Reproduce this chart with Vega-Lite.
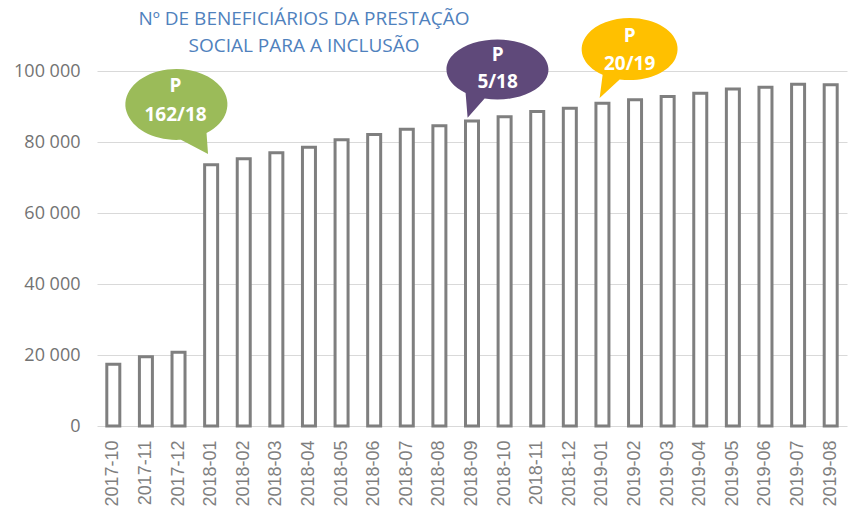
{
  "$schema": "https://vega.github.io/schema/vega-lite/v6.json",
  "width": 750,
  "height": 355,
  "autosize": "none",
  "padding": {"left": 97, "top": 71, "right": 1, "bottom": 89},
  "background": "white",
  "title": {
    "text": ["Nº DE BENEFICIÁRIOS DA PRESTAÇÃO", "SOCIAL PARA A INCLUSÃO"],
    "anchor": "middle",
    "frame": "group",
    "dx": -168,
    "dy": 50,
    "offset": 12,
    "font": "Open Sans",
    "fontSize": 19,
    "fontWeight": "normal",
    "color": "#4F81BD",
    "lineHeight": 27
  },
  "config": {"view": {"stroke": null}},
  "datasets": {
    "main": [
      {"month": "2017-10", "value": 17400},
      {"month": "2017-11", "value": 19500},
      {"month": "2017-12", "value": 20800},
      {"month": "2018-01", "value": 73600},
      {"month": "2018-02", "value": 75300},
      {"month": "2018-03", "value": 77000},
      {"month": "2018-04", "value": 78500},
      {"month": "2018-05", "value": 80600},
      {"month": "2018-06", "value": 82100},
      {"month": "2018-07", "value": 83600},
      {"month": "2018-08", "value": 84600},
      {"month": "2018-09", "value": 85900},
      {"month": "2018-10", "value": 87100},
      {"month": "2018-11", "value": 88600},
      {"month": "2018-12", "value": 89500},
      {"month": "2019-01", "value": 90900},
      {"month": "2019-02", "value": 91900},
      {"month": "2019-03", "value": 92800},
      {"month": "2019-04", "value": 93700},
      {"month": "2019-05", "value": 94900},
      {"month": "2019-06", "value": 95400},
      {"month": "2019-07", "value": 96300},
      {"month": "2019-08", "value": 96100}
    ],
    "callouts": [
      {"month": "2018-01", "value": 73600, "id": "g", "label": "P\n162/18"},
      {"month": "2018-09", "value": 85900, "id": "p", "label": "P\n5/18"},
      {"month": "2019-01", "value": 90900, "id": "y", "label": "P\n20/19"}
    ]
  },
  "encoding": {
    "x": {
      "field": "month",
      "type": "nominal",
      "sort": null,
      "scale": {"paddingInner": 0, "paddingOuter": 0},
      "axis": {
        "title": null,
        "labelAngle": -90,
        "labelFont": "Liberation Sans",
        "labelFontSize": 18,
        "labelColor": "#7f7f7f",
        "ticks": false,
        "domain": false,
        "labelPadding": 14
      }
    },
    "y": {
      "field": "value",
      "type": "quantitative",
      "scale": {"domain": [0, 100000], "nice": false},
      "axis": {
        "title": null,
        "values": [0, 20000, 40000, 60000, 80000, 100000],
        "labelExpr": "replace(format(datum.value, ','), regexp(',', 'g'), ' ')",
        "labelFont": "Open Sans",
        "labelFontSize": 18,
        "labelColor": "#737373",
        "ticks": false,
        "domain": false,
        "labelPadding": 17,
        "gridColor": "#d9d9d9",
        "gridWidth": 1
      }
    }
  },
  "layer": [
    {
      "data": {"name": "main"},
      "mark": {"type": "bar", "size": 13, "fill": "white", "stroke": "#7f7f7f", "strokeWidth": 3}
    },
    {
      "data": {"name": "callouts"},
      "mark": {"type": "point", "filled": true, "size": 4, "opacity": 1, "strokeWidth": 0},
      "encoding": {
        "shape": {
          "field": "id",
          "type": "nominal",
          "legend": null,
          "scale": {
            "domain": ["g", "p", "y"],
            "range": [
              "M -4.6 -31.6 L -3.1 -10.8 L -30.2 -24.9 A 51 35.5 0 1 1 -4.6 -31.6 Z",
              "M 12.6 -22.5 L -4.4 -3.2 L -6.4 -28.1 A 51 30 0 1 1 12.6 -22.5 Z",
              "M 17.2 -23.9 L -2.8 -5.2 L 0.2 -28.6 A 48 31 0 1 1 17.2 -23.9 Z"
            ]
          }
        },
        "fill": {
          "field": "id",
          "type": "nominal",
          "legend": null,
          "scale": {"domain": ["g", "p", "y"], "range": ["#9BBB59", "#5F497A", "#FFC000"]}
        }
      }
    },
    {
      "data": {"name": "callouts"},
      "transform": [{"filter": "datum.id == 'g'"}],
      "mark": {"type": "text", "lineBreak": "\n", "lineHeight": 29, "font": "Open Sans", "fontSize": 19, "fontWeight": "bold", "color": "white", "align": "center", "baseline": "middle", "dx": -35.6, "dy": -78.5},
      "encoding": {"text": {"field": "label"}}
    },
    {
      "data": {"name": "callouts"},
      "transform": [{"filter": "datum.id == 'p'"}],
      "mark": {"type": "text", "lineBreak": "\n", "lineHeight": 27.5, "font": "Open Sans", "fontSize": 19, "fontWeight": "bold", "color": "white", "align": "center", "baseline": "middle", "dx": 25.6, "dy": -66.5},
      "encoding": {"text": {"field": "label"}}
    },
    {
      "data": {"name": "callouts"},
      "transform": [{"filter": "datum.id == 'y'"}],
      "mark": {"type": "text", "lineBreak": "\n", "lineHeight": 28, "font": "Open Sans", "fontSize": 19, "fontWeight": "bold", "color": "white", "align": "center", "baseline": "middle", "dx": 27.2, "dy": -67.5},
      "encoding": {"text": {"field": "label"}}
    }
  ]
}
